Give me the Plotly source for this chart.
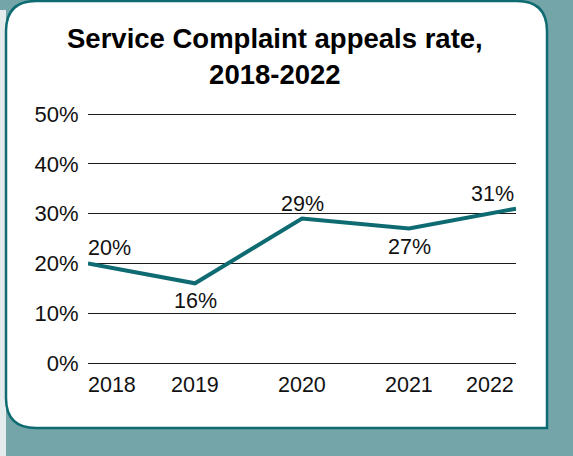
import plotly.graph_objects as go

# Appeals rate data
years = [2018, 2019, 2020, 2021, 2022]
rates = [20, 16, 29, 27, 31]
rate_labels = ["20%", "16%", "29%", "27%", "31%"]
label_above = [True, False, True, False, True]
y_ticks = [0, 10, 20, 30, 40, 50]
y_tick_labels = ["0%", "10%", "20%", "30%", "40%", "50%"]

W, H = 573, 456
L, R, T, B = 88, 57, 109, 88
PW, PH = W - L - R, H - T - B
Y_PAD = 5 / 4.98  # a few pixels of headroom so the 0% and 50% grid lines show

TEAL = "#0f6b72"
BG = "#74a5a8"
FONT = "Liberation Sans, Arial, Helvetica, sans-serif"


def px(x):
    return (x - L) / PW


def py(y):
    return (H - B - y) / PH


fig = go.Figure()
fig.add_trace(go.Scatter(
    x=years, y=rates, mode="lines",
    line=dict(color=TEAL, width=4),
    hoverinfo="skip", showlegend=False,
))

# Card with rounded corners (square at bottom right)
x0, x1, y0, y1, r = 6, 547, 1, 428, 30
card = (
    f"M {px(x0)},{py(y0 + r)} Q {px(x0)},{py(y0)} {px(x0 + r)},{py(y0)} "
    f"L {px(x1 - r)},{py(y0)} Q {px(x1)},{py(y0)} {px(x1)},{py(y0 + r)} "
    f"L {px(x1)},{py(y1)} L {px(x0 + r)},{py(y1)} "
    f"Q {px(x0)},{py(y1)} {px(x0)},{py(y1 - r)} Z"
)
shapes = [
    dict(type="rect", xref="paper", yref="paper", x0=px(0), x1=px(6), y0=py(H), y1=py(10),
         fillcolor="#e4ebed", line=dict(width=0), layer="below"),
    dict(type="path", xref="paper", yref="paper", path=card, fillcolor="white",
         line=dict(color=TEAL, width=2.5), layer="below"),
]

annotations = [dict(
    text="<b>Service Complaint appeals rate,<br>2018-2022</b>",
    xref="paper", yref="paper", x=px(275), y=py(57), xanchor="center", yanchor="middle",
    showarrow=False, font=dict(family=FONT, size=27.5, color="#000000"),
)]

# Year labels under the axis; end labels sit inside the plot width
for i, yr in enumerate(years):
    anchor = "left" if i == 0 else ("right" if i == len(years) - 1 else "center")
    annotations.append(dict(
        text=str(yr), x=yr, xref="x", yref="paper", y=py(385), xanchor=anchor,
        xshift=-2 if i == 0 else 0,
        yanchor="middle", showarrow=False, font=dict(family=FONT, size=21.5, color="#111111"),
    ))

# Value labels above or below each point
for i, (yr, v, lab, above) in enumerate(zip(years, rates, rate_labels, label_above)):
    anchor = "left" if i == 0 else ("right" if i == len(years) - 1 else "center")
    annotations.append(dict(
        text=lab, x=yr, y=v, xref="x", yref="y", xanchor=anchor,
        yanchor="bottom" if above else "top", yshift=1 if above else -4,
        xshift=-2 if i == 0 else 0,
        showarrow=False, font=dict(family=FONT, size=21.5, color="#111111"),
    ))

fig.update_layout(
    width=W, height=H, margin=dict(l=L, r=R, t=T, b=B),
    paper_bgcolor=BG, plot_bgcolor="rgba(0,0,0,0)",
    shapes=shapes, annotations=annotations,
    xaxis=dict(range=[2018, 2022], showgrid=False, zeroline=False, showticklabels=False,
               showline=False, ticks=""),
    yaxis=dict(range=[-Y_PAD, 50 + Y_PAD], tickvals=y_ticks, ticktext=y_tick_labels,
               showgrid=True, gridcolor="#1a1a1a", gridwidth=1, zeroline=False,
               showline=False, ticks="outside", ticklen=4, tickcolor="rgba(0,0,0,0)",
               tickfont=dict(family=FONT, size=22, color="#111111")),
)

fig.write_html("out.html")
